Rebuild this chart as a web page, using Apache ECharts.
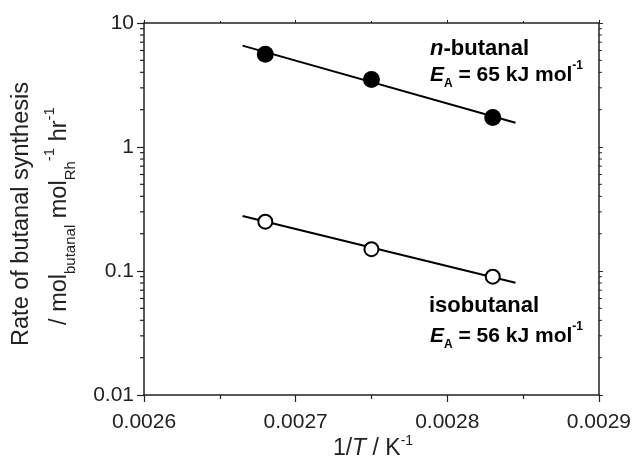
<!DOCTYPE html>
<html>
<head>
<meta charset="utf-8">
<script src="https://cdn.jsdelivr.net/npm/echarts@6/dist/echarts.min.js"></script>
<style>html,body{margin:0;padding:0;background:#fff;}#c{width:634px;height:458px;}</style>
</head>
<body>
<div id="c"></div>
<script>
// ---- data ----
const xTicks = [0.0026, 0.0027, 0.0028, 0.0029];
const yTicks = [0.01, 0.1, 1, 10];
const yMinorTicks = [0.02,0.03,0.04,0.05,0.06,0.07,0.08,0.09,0.2,0.3,0.4,0.5,0.6,0.7,0.8,0.9,2,3,4,5,6,7,8,9];
const invT = [0.00268, 0.00275, 0.00283];
const nButanal = [5.6, 3.5, 1.73];
const isoButanal = [0.25, 0.15, 0.09];
const nFitX = [0.002665, 0.002845];
const nFitY = [6.57, 1.57];
const isoFitX = [0.002665, 0.002845];
const isoFitY = [0.278, 0.0805];

const xMin = 0.0026, xMax = 0.0029;
const FONT = 'Liberation Sans, Arial, Helvetica, sans-serif';

const chart = echarts.init(document.getElementById('c'), null, {renderer: 'canvas'});

const axisLineStyle = {color: '#222', width: 1.5};

const eRich = {
  e: {fontFamily: FONT, fontSize: 21, fontWeight: 'bold', fontStyle: 'italic', fill: '#000', lineHeight: 30, verticalAlign: 'middle'},
  s: {fontFamily: FONT, fontSize: 12, fontWeight: 'bold', fill: '#000', verticalAlign: 'bottom'},
  b: {fontFamily: FONT, fontSize: 21, fontWeight: 'bold', fill: '#000', lineHeight: 30, verticalAlign: 'middle'},
  p: {fontFamily: FONT, fontSize: 12, fontWeight: 'bold', fill: '#000', verticalAlign: 'top'}
};

const option = {
  animation: false,
  backgroundColor: '#fff',
  grid: {left: 144, top: 23, width: 458, height: 372},
  xAxis: [{
    type: 'value', min: xMin, max: xMax, interval: 0.0001,
    axisLine: {show: true, lineStyle: axisLineStyle},
    axisTick: {show: true, length: 7, lineStyle: {color: '#222', width: 1.2}},
    minorTick: {show: true, splitNumber: 2, length: 4, lineStyle: {color: '#222', width: 1.2}},
    splitLine: {show: false},
    axisLabel: {
      margin: 17, fontSize: 21, color: '#222', fontFamily: FONT,
      formatter: v => { const t = xTicks.find(a => Math.abs(a - v) < 1e-9); return t !== undefined ? t.toFixed(4) : ''; }
    }
  }, {
    type: 'value', min: xMin, max: xMax, interval: 0.0001, position: 'top',
    axisLine: {show: true, onZero: false, lineStyle: axisLineStyle},
    axisTick: {show: true, length: 3, lineStyle: {color: '#222', width: 1}},
    minorTick: {show: true, splitNumber: 2, length: 2, lineStyle: {color: '#222', width: 1}},
    splitLine: {show: false}, axisLabel: {show: false}
  }],
  yAxis: [{
    type: 'log', logBase: 10, min: 0.01, max: 10,
    axisLine: {show: true, lineStyle: axisLineStyle},
    axisTick: {show: true, length: 7, lineStyle: {color: '#222', width: 1.2}},
    splitLine: {show: false},
    axisLabel: {
      margin: 10, fontSize: 21, color: '#222', fontFamily: FONT,
      formatter: v => { const t = yTicks.find(a => Math.abs(a - v) / a < 1e-6); return t !== undefined ? String(t) : ''; }
    }
  }, {
    type: 'log', logBase: 10, min: 0.01, max: 10, position: 'right',
    axisLine: {show: true, onZero: false, lineStyle: axisLineStyle},
    axisTick: {show: true, length: 4, lineStyle: {color: '#222', width: 1}},
    splitLine: {show: false}, axisLabel: {show: false}
  }],
  series: [
    {
      type: 'custom', xAxisIndex: 0, yAxisIndex: 0, silent: true, clip: false,
      data: yMinorTicks.map(v => [xMin, v]),
      renderItem: function (params, api) {
        const v = api.value(1);
        const pL = api.coord([xMin, v]);
        const pR = api.coord([xMax, v]);
        return {
          type: 'group',
          children: [
            {type: 'line', shape: {x1: pL[0] - 4, y1: pL[1], x2: pL[0], y2: pL[1]}, style: {stroke: '#222', lineWidth: 1.2}},
            {type: 'line', shape: {x1: pR[0], y1: pR[1], x2: pR[0] + 3, y2: pR[1]}, style: {stroke: '#222', lineWidth: 1}}
          ]
        };
      }
    },
    {
      type: 'line', name: 'n-fit', data: nFitX.map((x, i) => [x, nFitY[i]]),
      showSymbol: false, lineStyle: {color: '#000', width: 2}, z: 2
    },
    {
      type: 'line', name: 'iso-fit', data: isoFitX.map((x, i) => [x, isoFitY[i]]),
      showSymbol: false, lineStyle: {color: '#000', width: 2}, z: 2
    },
    {
      type: 'scatter', name: 'n-butanal', data: invT.map((x, i) => [x, nButanal[i]]),
      symbol: 'circle', symbolSize: 17, itemStyle: {color: '#000', opacity: 1}, z: 3
    },
    {
      type: 'scatter', name: 'isobutanal', data: invT.map((x, i) => [x, isoButanal[i]]),
      symbol: 'circle', symbolSize: 14, itemStyle: {color: '#fff', borderColor: '#000', borderWidth: 2, opacity: 1}, z: 3
    }
  ],
  graphic: [
    {
      type: 'text', left: 430, top: 38,
      style: {
        text: '{i|n}{b|-butanal}',
        rich: {
          i: {fontFamily: FONT, fontSize: 22, fontWeight: 'bold', fontStyle: 'italic', fill: '#000'},
          b: {fontFamily: FONT, fontSize: 22, fontWeight: 'bold', fill: '#000'}
        }
      }
    },
    {
      type: 'text', left: 430, top: 60,
      style: {text: '{e|E}{s|A}{b| = 65 kJ mol}{p|-1}', rich: eRich}
    },
    {
      type: 'text', left: 429, top: 295,
      style: {
        text: 'isobutanal',
        fontFamily: FONT, fontSize: 22, fontWeight: 'bold', fill: '#000'
      }
    },
    {
      type: 'text', left: 430, top: 321,
      style: {text: '{e|E}{s|A}{b| = 56 kJ mol}{p|-1}', rich: eRich}
    },
    {
      type: 'text', x: 22, y: 214, rotation: Math.PI / 2,
      style: {
        text: 'Rate of butanal synthesis',
        fontFamily: FONT, fontSize: 23.5, fill: '#222', align: 'center', verticalAlign: 'middle'
      }
    },
    {
      type: 'text', x: 60, y: 216, rotation: Math.PI / 2,
      style: {
        text: '{m|/ mol}{s|butanal}{m| mol}{s|Rh}{p|-1}{m| hr}{p|-1}',
        align: 'center', verticalAlign: 'middle',
        rich: {
          m: {fontFamily: FONT, fontSize: 23.5, fill: '#222', lineHeight: 36, verticalAlign: 'middle'},
          s: {fontFamily: FONT, fontSize: 15, fill: '#222', verticalAlign: 'bottom'},
          p: {fontFamily: FONT, fontSize: 15, fill: '#222', verticalAlign: 'top'}
        }
      }
    },
    {
      type: 'text', x: 373, y: 449,
      style: {
        text: '{m|1/}{i|T}{m| / K}{p|-1}',
        align: 'center', verticalAlign: 'middle',
        rich: {
          m: {fontFamily: FONT, fontSize: 23, fill: '#222', lineHeight: 30, verticalAlign: 'middle'},
          i: {fontFamily: FONT, fontSize: 23, fontStyle: 'italic', fill: '#222', lineHeight: 30, verticalAlign: 'middle'},
          p: {fontFamily: FONT, fontSize: 14, fill: '#222', verticalAlign: 'top'}
        }
      }
    }
  ]
};
chart.setOption(option);
</script>
</body>
</html>
